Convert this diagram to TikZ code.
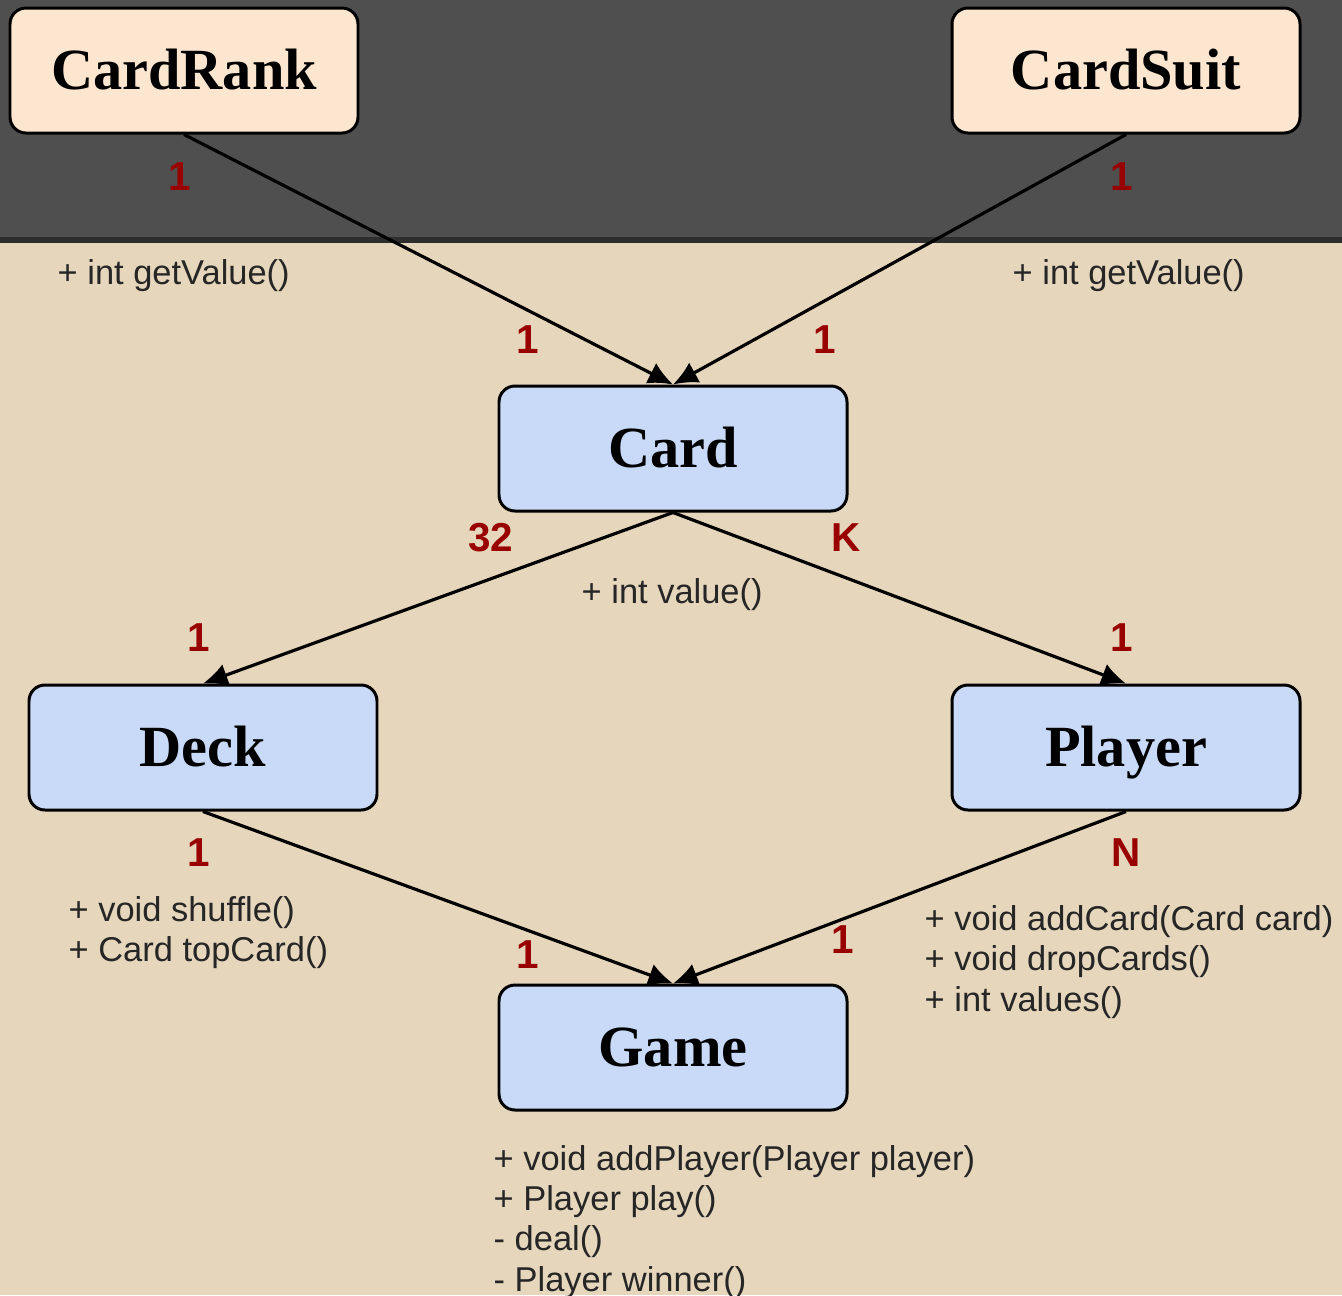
\documentclass[tikz,border=0pt]{standalone}
\usepackage{fontspec}
\setmainfont{Liberation Serif}
\setsansfont{Liberation Sans}
\usetikzlibrary{arrows.meta, positioning}
\definecolor{bgbeige}{HTML}{E6D6BC}
\definecolor{bandgrey}{HTML}{4F4F4F}
\definecolor{bandline}{HTML}{2E2E2E}
\definecolor{enumfill}{HTML}{FDE6D0}
\definecolor{classfill}{HTML}{C9DAF8}
\definecolor{multred}{HTML}{990000}
\tikzset{umlclass/.style={draw=black, line width=0.85pt, rounded corners=0.16cm, fill=classfill, minimum width=3.48cm, minimum height=1.25cm, text height=11pt, text depth=0pt, font=\rmfamily\bfseries\fontsize{16.6}{20}\selectfont},
  umlenum/.style={umlclass, fill=enumfill},
  mult/.style={text=multred, font=\sffamily\bfseries\fontsize{11.5}{14}\selectfont, inner sep=0pt},
  methods/.style={align=left, font=\sffamily\fontsize{9.8}{11.4}\selectfont, inner sep=0pt, text=black!85},
  assoc/.style={line width=0.9pt, -{Latex[length=7pt,width=6.5pt]}}}

\begin{document}
\begin{tikzpicture}

                 \useasboundingbox (0,0) rectangle (13.42,-12.95);
                 \fill[bgbeige] (0,0) rectangle (13.42,-12.95);
                 \fill[bandgrey] (0,0) rectangle (13.42,-2.39);
                 \draw[bandline, line width=1.5pt] (0,-2.40) -- (13.42,-2.40);

                 % the classes
                 \node[umlenum] (rank) at (1.84,-0.705) {CardRank};
                 \node[umlenum] (suit) at (11.26,-0.705) {CardSuit};
                 \node[umlclass] (card) at (6.73,-4.485) {Card};
                 \node[umlclass] (deck) at (2.03,-7.475) {Deck};
                 \node[umlclass] (player) at (11.26,-7.475) {Player};
                 \node[umlclass] (game) at (6.73,-10.475) {Game};

                 % associations
                 \draw[assoc] (rank.south) -- (card.north);
                 \draw[assoc] (suit.south) -- (card.north);
                 \draw[assoc] (card.south) -- (deck.north);
                 \draw[assoc] (card.south) -- (player.north);
                 \draw[assoc] (deck.south) -- (game.north);
                 \draw[assoc] (player.south) -- (game.north);

                 % multiplicities
                 \node[mult] (m1) at (1.80,-1.77) {1};
                 \node[mult] (m2) at (11.22,-1.77) {1};
                 \node[mult] (m3) at (5.28,-3.40) {1};
                 \node[mult] (m4) at (8.25,-3.40) {1};
                 \node[mult] (m5) at (4.91,-5.38) {32};
                 \node[mult] (m6) at (8.46,-5.38) {K};
                 \node[mult] (m7) at (1.99,-6.38) {1};
                 \node[mult] (m8) at (11.22,-6.38) {1};
                 \node[mult] (m9) at (1.99,-8.53) {1};
                 \node[mult] (m10) at (11.26,-8.53) {N};
                 \node[mult] (m11) at (5.28,-9.55) {1};
                 \node[mult] (m12) at (8.43,-9.40) {1};

                 % operations
                 \node[methods, anchor=west] (rankops) at (0.57,-2.76) {+ int getValue()};
                 \node[methods, anchor=west] (suitops) at (10.12,-2.76) {+ int getValue()};
                 \node[methods, anchor=west] (cardops) at (5.81,-5.95) {+ int value()};
                 \node[methods, anchor=west] (deckops) at (0.68,-9.33) {+ void shuffle()\\+ Card topCard()};
                 \node[methods, anchor=west] (playerops) at (9.24,-9.62) {+ void addCard(Card card)\\+ void dropCards()\\+ int values()};
                 \node[methods, anchor=west] (gameops) at (4.93,-12.22) {+ void addPlayer(Player player)\\+ Player play()\\- deal()\\- Player winner()};

\end{tikzpicture}
\end{document}
